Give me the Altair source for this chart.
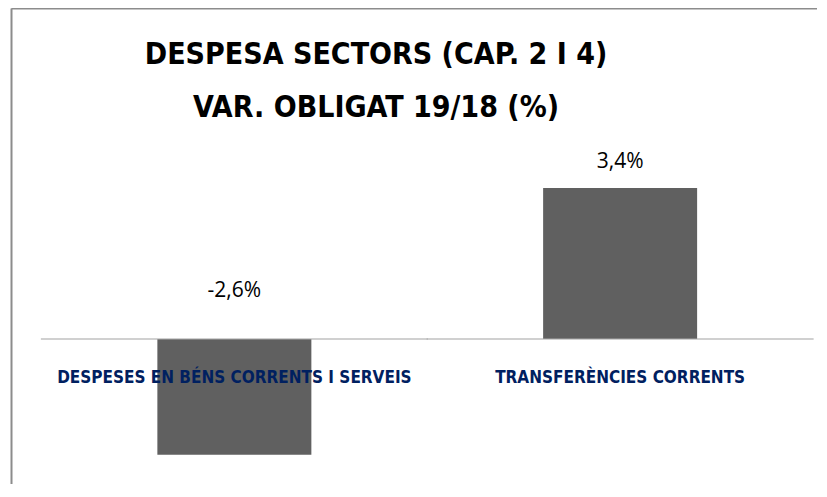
import altair as alt
import pandas as pd

categories = ["Despeses en béns corrents i serveis", "Transferències corrents"]
values = [-2.6, 3.4]
title_lines = ["DESPESA SECTORS (CAP. 2 I 4)", "VAR. OBLIGAT 19/18 (%)"]

df = pd.DataFrame({"cat": categories, "v": values})
df["label"] = [f"{v:.1f}".replace(".", ",") + "%" for v in values]
df["catu"] = [c.upper() for c in categories]

TITLE_FONT = "Liberation Sans Narrow, DejaVu Sans Condensed, Open Sans"
VAL_FONT = "Open Sans"

xscale = alt.Scale(paddingInner=0, paddingOuter=0.0447, align=0.884)
yscale = alt.Scale(domain=[-3.26, 7.45], nice=False, zero=False)

X = alt.X("cat:N", scale=xscale, sort=categories,
          axis=alt.Axis(orient="top", labels=False, ticks=False, title=None,
                        domainColor="#8c8c8c", domainWidth=2))
Y = alt.Y("v:Q", scale=yscale,
          axis=alt.Axis(orient="left", labels=False, ticks=False, grid=False, title=None,
                        domainColor="#8c8c8c", domainWidth=2))

base = alt.Chart(df)

bars = base.mark_bar(size=154, color="#606060").encode(x=X, y=Y)

zero = base.mark_tick(orient="horizontal", size=387, thickness=1.5, color="#a6a6a6").encode(
    x=alt.X("cat:N", scale=xscale, sort=categories),
    y=alt.Y("z:Q", scale=yscale),
).transform_calculate(z="0")

cat_labels = base.mark_text(font=TITLE_FONT, fontSize=17, fontWeight="bold", color="#002060",
                            baseline="middle", dy=39).encode(
    x=alt.X("cat:N", scale=xscale, sort=categories),
    y=alt.Y("z:Q", scale=yscale),
    text="catu:N",
).transform_calculate(z="0")

pos_labels = base.mark_text(font=VAL_FONT, fontSize=21, color="#000000",
                            baseline="alphabetic", dy=-20).encode(
    x=alt.X("cat:N", scale=xscale, sort=categories),
    y=alt.Y("v:Q", scale=yscale),
    text="label:N",
).transform_filter("datum.v >= 0")

neg_labels = base.mark_text(font=VAL_FONT, fontSize=21, color="#000000",
                            baseline="alphabetic", dy=-42).encode(
    x=alt.X("cat:N", scale=xscale, sort=categories),
    y=alt.Y("z:Q", scale=yscale),
    text="label:N",
).transform_filter("datum.v < 0").transform_calculate(z="0")

chart = alt.layer(bars, zero, cat_labels, pos_labels, neg_labels).properties(
    width=806,
    height=476,
    padding={"left": 3, "top": 0, "right": 0, "bottom": 0},
    title=alt.TitleParams(
        text=title_lines,
        anchor="middle",
        frame="group",
        dx=-38,
        offset=-139,
        baseline="alphabetic",
        font=TITLE_FONT,
        fontSize=30,
        fontWeight="bold",
        color="#000000",
        lineHeight=53,
    ),
).configure_view(stroke=None).configure(background="white")

chart.save("out.html", embed_options={"renderer": "svg", "actions": False})
